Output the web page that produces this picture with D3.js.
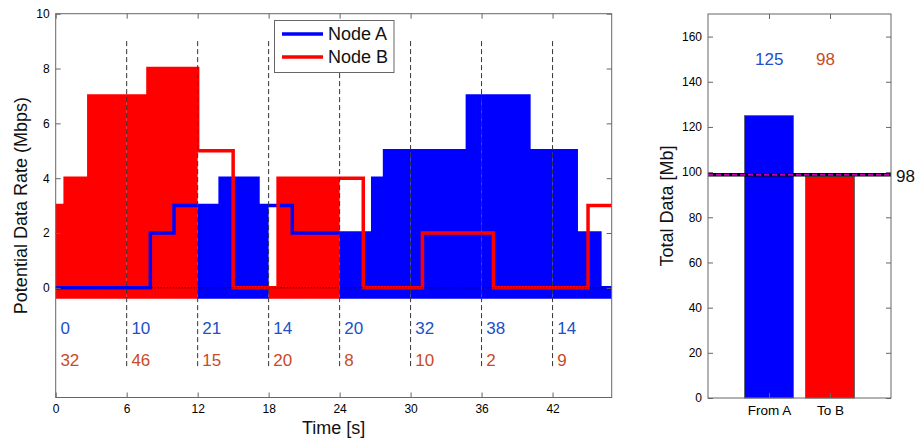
<!DOCTYPE html>
<html><head><meta charset="utf-8">
<script src="https://cdn.jsdelivr.net/npm/d3@7/dist/d3.min.js"></script>
<style>
body{margin:0;background:#fff}
text{font-family:"Liberation Sans",Arial,Helvetica,sans-serif}
</style>
</head><body>
<svg id="c" width="917" height="441"></svg>
<script>
// ---------- DATA ----------
// Node A potential rate (step function: value holds from time[i] to time[i+1])
const nodeATimes = [0, 8, 10, 13.9, 17.1, 20, 26.8, 27.8, 34.8, 40, 44, 46, 47];
const nodeARates = [0, 2, 3, 4, 3, 2, 4, 5, 7, 5, 2, 0];
// Node B potential rate
const nodeBTimes = [0, 0.8, 2.8, 7.8, 12, 15, 18.8, 26, 31, 37, 45, 47];
const nodeBRates = [3, 4, 7, 8, 5, 0, 4, 0, 2, 0, 3];
// 6-second slots: which node transmits, and data sent per slot
const slotStarts = [0, 6, 12, 18, 24, 30, 36, 42];
const slotOwner = ["B", "B", "A", "B", "A", "A", "A", "A"];
const slotDataA = [0, 10, 21, 14, 20, 32, 38, 14];
const slotDataB = [32, 46, 15, 20, 8, 10, 2, 9];
const timeEnd = 47;
const xTicks = [0, 6, 12, 18, 24, 30, 36, 42];
const yTicks = [0, 2, 4, 6, 8, 10];
// Totals bar chart
const totalCats = ["From A", "To B"];
const totalVals = [125, 98];
const thresholdVal = 98.8;
const thresholdLabel = "98";
const totalTicks = [0, 20, 40, 60, 80, 100, 120, 140, 160];

// ---------- STYLE ----------
const BLUE = "#0000ff", RED = "#ff0000";
const TXT_BLUE = "#2050c8", TXT_RED = "#c84b28";
const AX = "#666";

const svg = d3.select("#c");
svg.append("rect").attr("width", 917).attr("height", 441).attr("fill", "#fff");

// ---------- LEFT CHART ----------
const x = d3.scaleLinear().domain([0, timeEnd]).range([55.7, 611.7]);
const y = d3.scaleLinear().domain([-4, 10]).range([397.5, 13.7]);
const L = svg.append("g");

function stepPts(times, rates, s, e) {
  const pts = [];
  for (let i = 0; i < rates.length; i++) {
    const a = Math.max(times[i], s), b = Math.min(times[i + 1], e);
    if (b > a) pts.push([a, rates[i]]);
  }
  pts.push([e, pts[pts.length - 1][1]]);
  return pts;
}

const area = d3.area().curve(d3.curveStepAfter)
  .x(d => x(d[0])).y0(y(-0.4)).y1(d => y(d[1]));
const line = d3.line().curve(d3.curveStepAfter)
  .x(d => x(d[0])).y(d => y(d[1]));

// fills
slotStarts.forEach((s, i) => {
  const e = i + 1 < slotStarts.length ? slotStarts[i + 1] : timeEnd;
  const own = slotOwner[i];
  const pts = own === "A" ? stepPts(nodeATimes, nodeARates, s, e) : stepPts(nodeBTimes, nodeBRates, s, e);
  L.append("path").attr("d", area(pts)).attr("fill", own === "A" ? BLUE : RED);
});

// lines
L.append("path").attr("d", line(stepPts(nodeATimes, nodeARates, 0, timeEnd)))
  .attr("fill", "none").attr("stroke", BLUE).attr("stroke-width", 3.5);
L.append("path").attr("d", line(stepPts(nodeBTimes, nodeBRates, 0, timeEnd)))
  .attr("fill", "none").attr("stroke", RED).attr("stroke-width", 3.5);

// dashed slot dividers
slotStarts.slice(1).forEach(s => {
  L.append("line").attr("x1", x(s)).attr("x2", x(s)).attr("y1", y(9)).attr("y2", y(-2.95))
    .attr("stroke", "#333").attr("stroke-width", 1).attr("stroke-dasharray", "5,3");
});
// dotted zero line
L.append("line").attr("x1", x(0)).attr("x2", x(timeEnd)).attr("y1", y(0)).attr("y2", y(0))
  .attr("stroke", "#000").attr("stroke-width", 1).attr("stroke-dasharray", "1,2");

// slot data annotations
slotStarts.forEach((s, i) => {
  L.append("text").attr("x", x(s) + 4.7).attr("y", y(-1.48)).attr("dy", "0.35em")
    .attr("font-size", 17).attr("fill", TXT_BLUE).text(slotDataA[i]);
  L.append("text").attr("x", x(s) + 4.7).attr("y", y(-2.62)).attr("dy", "0.35em")
    .attr("font-size", 17).attr("fill", TXT_RED).text(slotDataB[i]);
});

function styleAxis(g, showText, fs) {
  g.select(".domain").remove();
  g.selectAll(".tick line").attr("stroke", AX);
  g.selectAll("text").attr("font-size", fs || 12).attr("fill", "#000")
    .attr("font-family", '"Liberation Sans",Arial,sans-serif');
  if (!showText) g.selectAll("text").remove();
}
L.append("g").attr("transform", `translate(0,${y(-4)})`)
  .call(d3.axisBottom(x).tickValues(xTicks).tickSize(-5).tickPadding(7)).call(g => styleAxis(g, true));
L.append("g").attr("transform", `translate(0,${y(10)})`)
  .call(d3.axisTop(x).tickValues(xTicks).tickSize(-5)).call(g => styleAxis(g, false));
L.append("g").attr("transform", `translate(${x(0)},0)`)
  .call(d3.axisLeft(y).tickValues(yTicks).tickSize(-5).tickPadding(6)).call(g => styleAxis(g, true));
L.append("g").attr("transform", `translate(${x(timeEnd)},0)`)
  .call(d3.axisRight(y).tickValues(yTicks).tickSize(-5)).call(g => styleAxis(g, false));
L.append("rect").attr("x", x(0)).attr("y", y(10)).attr("width", x(timeEnd) - x(0)).attr("height", y(-4) - y(10))
  .attr("fill", "none").attr("stroke", AX).attr("stroke-width", 1);

// axis labels
L.append("text").attr("x", (x(0) + x(timeEnd)) / 2).attr("y", 434).attr("text-anchor", "middle")
  .attr("font-size", 18).attr("fill", "#111").text("Time [s]");
L.append("text").attr("transform", `translate(27,${(y(-4) + y(10)) / 2}) rotate(-90)`)
  .attr("text-anchor", "middle").attr("font-size", 18).attr("fill", "#111").text("Potential Data Rate (Mbps)");

// legend
const lg = L.append("g");
lg.append("rect").attr("x", 274.5).attr("y", 20.5).attr("width", 119.5).attr("height", 52)
  .attr("fill", "#fff").attr("stroke", AX);
[["Node A", BLUE, 34], ["Node B", RED, 57]].forEach(([t, c, yy]) => {
  lg.append("line").attr("x1", 282).attr("x2", 323).attr("y1", yy).attr("y2", yy)
    .attr("stroke", c).attr("stroke-width", 3.5);
  lg.append("text").attr("x", 328).attr("y", yy).attr("dy", "0.35em").attr("font-size", 18)
    .attr("fill", "#111").text(t);
});

// ---------- RIGHT CHART ----------
const xb = d3.scaleLinear().domain([0, 3]).range([708, 891]);
const yb = d3.scaleLinear().domain([0, 170]).range([398, 14]);
const R = svg.append("g");
totalVals.forEach((v, i) => {
  R.append("rect").attr("x", xb(i + 1 - 0.4)).attr("width", xb(0.8) - xb(0))
    .attr("y", yb(v)).attr("height", yb(0) - yb(v))
    .attr("fill", i === 0 ? BLUE : RED).attr("stroke", "#555").attr("stroke-width", 0.8);
  R.append("text").attr("x", xb(i + 1 - 0.23)).attr("y", yb(150)).attr("dy", "0.35em")
    .attr("font-size", 17).attr("fill", i === 0 ? TXT_BLUE : TXT_RED).text(v);
});
R.append("line").attr("x1", xb(0)).attr("x2", xb(3)).attr("y1", yb(thresholdVal)).attr("y2", yb(thresholdVal))
  .attr("stroke", "#000").attr("stroke-width", 3.5);
R.append("line").attr("x1", xb(0)).attr("x2", xb(3)).attr("y1", yb(thresholdVal)).attr("y2", yb(thresholdVal))
  .attr("stroke", "#bf00bf").attr("stroke-width", 2).attr("stroke-dasharray", "5,3");
R.append("text").attr("x", 896).attr("y", yb(thresholdVal) + 1.5).attr("dy", "0.35em")
  .attr("font-size", 17).attr("fill", "#111").text(thresholdLabel);

R.append("g").attr("transform", `translate(0,${yb(0)})`)
  .call(d3.axisBottom(xb).tickValues([1, 2]).tickFormat((d, i) => totalCats[i]).tickSize(-5).tickPadding(7))
  .call(g => styleAxis(g, true, 13.5));
R.append("g").attr("transform", `translate(0,${yb(170)})`)
  .call(d3.axisTop(xb).tickValues([1, 2]).tickSize(-5)).call(g => styleAxis(g, false));
R.append("g").attr("transform", `translate(${xb(0)},0)`)
  .call(d3.axisLeft(yb).tickValues(totalTicks).tickSize(-5).tickPadding(6)).call(g => styleAxis(g, true));
R.append("g").attr("transform", `translate(${xb(3)},0)`)
  .call(d3.axisRight(yb).tickValues(totalTicks).tickSize(-5)).call(g => styleAxis(g, false));
R.append("rect").attr("x", xb(0)).attr("y", yb(170)).attr("width", xb(3) - xb(0)).attr("height", yb(0) - yb(170))
  .attr("fill", "none").attr("stroke", AX).attr("stroke-width", 1);
R.append("text").attr("transform", `translate(673,${(yb(0) + yb(170)) / 2}) rotate(-90)`)
  .attr("text-anchor", "middle").attr("font-size", 18).attr("fill", "#111").text("Total Data [Mb]");
</script>
</body></html>
